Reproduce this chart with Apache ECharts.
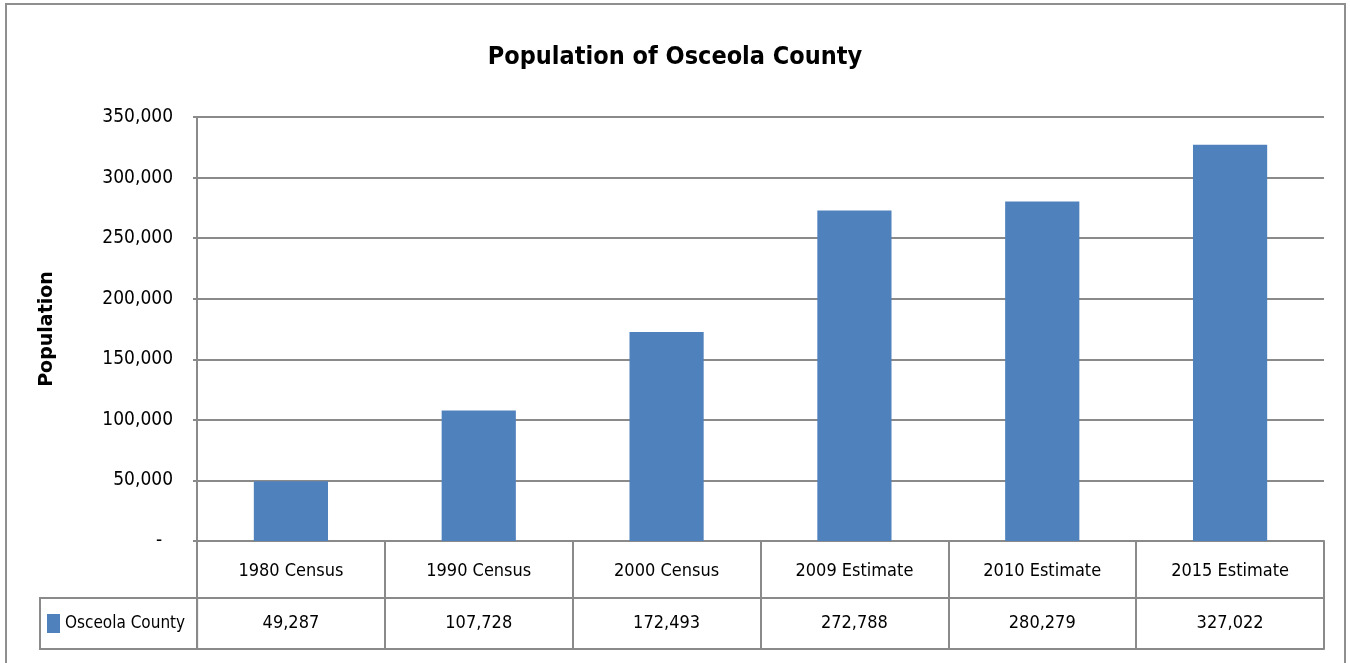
<!DOCTYPE html>
<html>
<head>
<meta charset="utf-8">
<script src="https://cdn.jsdelivr.net/npm/echarts@6/dist/echarts.min.js"></script>
<style>
  html, body { margin: 0; padding: 0; background: #fff; }
  #main { position: absolute; left: 0; top: 0; width: 1350px; height: 663px; }
  #frame { position: absolute; left: 5px; top: 3px; width: 1337px; height: 700px;
           border: 2px solid #8f8f8f; pointer-events: none; }
</style>
</head>
<body>
<div id="main"></div>
<div id="frame"></div>
<script>
// chart data
const categories = ['1980 Census', '1990 Census', '2000 Census', '2009 Estimate', '2010 Estimate', '2015 Estimate']
const population = [49287, 107728, 172493, 272788, 280279, 327022]
const seriesName = 'Osceola County'
const yTicks = { min: 0, max: 350000, interval: 50000 }

const fontNarrow = '"Liberation Sans Narrow", "DejaVu Sans Condensed", sans-serif'
const gridColor = '#8a8a8a'

function fmt(v) {
  return v.toLocaleString('en-US')
}

const myChart = echarts.init(document.getElementById('main'))

const option = {
  animation: false,
  title: {
    text: 'Population of Osceola County',
    left: 'center',
    top: 40,
    textStyle: {
      fontFamily: fontNarrow,
      fontSize: 25,
      fontWeight: 'bold',
      color: '#000'
    }
  },
  // legend box doubles as the first cell of the data table row
  legend: {
    left: 40,
    top: 598,
    orient: 'horizontal',
    padding: [16, 12, 16, 7],
    borderColor: gridColor,
    borderWidth: 2,
    icon: 'rect',
    itemWidth: 13,
    itemHeight: 19,
    textStyle: {
      fontFamily: fontNarrow,
      fontSize: 17,
      color: '#000',
      lineHeight: 19
    },
    data: [seriesName]
  },
  grid: {
    left: 197,
    right: 26,
    top: 117,
    bottom: 122
  },
  xAxis: [
    {
      // categories row; ticks run down through the table as cell borders
      type: 'category',
      data: categories,
      position: 'bottom',
      axisLine: { lineStyle: { color: gridColor, width: 2 } },
      axisTick: { show: true, interval: 0, length: 108, lineStyle: { color: gridColor, width: 2 } },
      axisLabel: {
        interval: 0,
        margin: 21,
        fontFamily: fontNarrow,
        fontSize: 18,
        color: '#000'
      }
    },
    {
      // values row
      type: 'category',
      data: population.map(fmt),
      position: 'bottom',
      offset: 57,
      axisLine: { lineStyle: { color: gridColor, width: 2 } },
      axisTick: { show: false },
      axisLabel: {
        interval: 0,
        margin: 16,
        fontFamily: fontNarrow,
        fontSize: 18,
        color: '#000'
      }
    },
    {
      // bottom border of the table
      type: 'category',
      data: categories,
      position: 'bottom',
      offset: 108,
      axisLine: { lineStyle: { color: gridColor, width: 2 } },
      axisTick: { show: false },
      axisLabel: { show: false }
    }
  ],
  yAxis: {
    type: 'value',
    min: yTicks.min,
    max: yTicks.max,
    interval: yTicks.interval,
    name: 'Population',
    nameLocation: 'middle',
    nameGap: 140,
    nameRotate: 90,
    nameTextStyle: {
      fontFamily: '"DejaVu Sans", sans-serif',
      fontSize: 19,
      fontWeight: 'bold',
      color: '#000'
    },
    axisLine: { show: true, lineStyle: { color: gridColor, width: 2 } },
    axisTick: { show: true, length: 4, lineStyle: { color: gridColor, width: 2 } },
    axisLabel: {
      margin: 24,
      fontFamily: fontNarrow,
      fontSize: 19,
      color: '#000',
      formatter: function (v) { return v === 0 ? '-  ' : fmt(v) }
    },
    splitLine: { show: true, lineStyle: { color: gridColor, width: 2 } }
  },
  series: [
    {
      name: seriesName,
      type: 'bar',
      xAxisIndex: 0,
      barWidth: '39.5%',
      itemStyle: { color: '#4F81BD' },
      data: population
    }
  ]
}
option && myChart.setOption(option)
</script>
</body>
</html>
